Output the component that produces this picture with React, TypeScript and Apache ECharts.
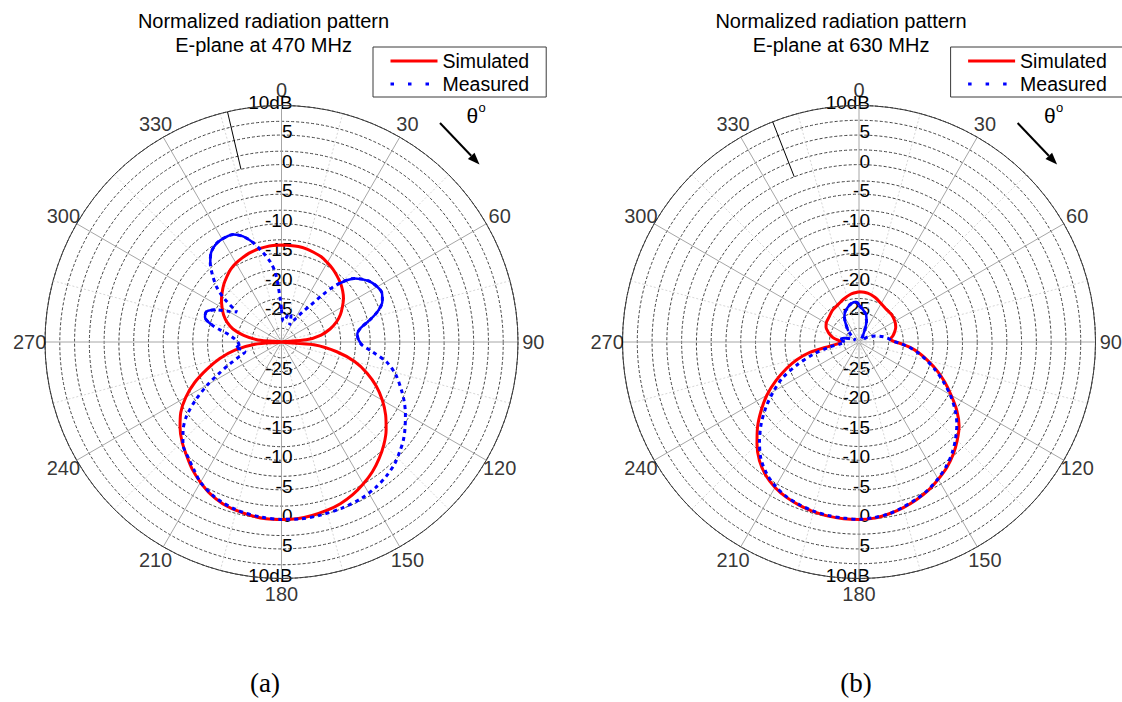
import React, { useEffect, useRef } from "react";
import * as echarts from "echarts";

const FONT = "'Liberation Sans', Arial, Helvetica, sans-serif";
const SERIF = "'Liberation Serif', 'Times New Roman', serif";

// ---------- data ----------
const radiusMin = -30;
const radiusMax = 10;
const radiusStep = 2.5;
const angleStep = 30;
const angleTickLabels = [0, 30, 60, 90, 120, 150, 180, 210, 240, 270, 300, 330];

const seriesNames = ["Simulated", "Measured"];
const titles = [
  "Normalized radiation pattern\nE-plane at 470 MHz",
  "Normalized radiation pattern\nE-plane at 630 MHz",
];
const captions = ["(a)", "(b)"];

// (a) 470 MHz, simulated
const sim470Angles = [
  0, 5, 10, 15, 20, 25, 30, 35, 40, 45, 50, 55, 60, 65, 70, 75, 80, 85, 90,
  95, 100, 105, 110, 115, 120, 125, 130, 135, 140, 145, 150, 155, 160, 165, 170, 175, 180,
  185, 190, 195, 200, 205, 210, 215, 220, 225, 230, 235, 240, 245, 250, 255, 260, 265, 270,
  275, 280, 285, 290, 295, 300, 305, 310, 315, 320, 325, 330, 335, 340, 345, 350, 355, 360,
];
const sim470Db = [
  -13.6, -13.6, -13.6, -13.7, -13.9, -14.1, -14.5, -14.9, -15.4, -15.9, -16.5, -17.2, -18.1, -19.0, -20.1, -21.5, -23.2, -25.8, -30,
  -24.5, -20.5, -17.2, -14.6, -12.3, -10.3, -8.5, -6.9, -5.5, -4.3, -3.2, -2.3, -1.5, -0.9, -0.5, -0.2, 0, 0,
  0, -0.2, -0.5, -0.9, -1.6, -2.6, -3.7, -5.0, -6.2, -7.6, -9.2, -11.3, -13.8, -16.6, -19.2, -22.0, -25.5, -30,
  -26.0, -23.5, -21.5, -20.2, -19.2, -18.4, -17.6, -16.9, -16.2, -15.6, -15.0, -14.6, -14.3, -14.0, -13.8, -13.7, -13.6, -13.6,
];

// (a) 470 MHz, measured
const meas470Angles = [
  0, 5, 10, 15, 20, 25, 30, 35, 38, 41, 44, 49, 55, 60, 64, 68, 72, 76, 80, 84, 88,
  92, 96, 101, 106, 112, 116, 120, 125, 129, 133, 137, 142, 147, 153, 160, 167, 174, 180,
  187, 195, 203, 210, 214, 219, 224, 228, 232, 236, 240, 243, 247, 251, 255, 259, 263, 266,
  270, 274, 278, 281, 284, 288, 292, 296, 300, 304, 307, 310, 314, 318, 322, 327, 332, 336,
  340, 344, 348, 352, 355, 358, 360,
];
const meas470Db = [
  -24.5, -26.5, -26.0, -25.0, -25.3, -26.8, -25.7, -23.8, -22.3, -19.5, -16.5, -13.6, -12.0, -11.3, -11.1, -11.6, -12.8, -14.6, -16.4, -17.1, -17.0,
  -16.4, -14.6, -11.8, -9.9, -8.1, -6.9, -5.8, -4.5, -3.5, -2.7, -1.9, -1.2, -0.7, -0.3, -0.1, 0, 0.1, 0,
  -0.2, -0.6, -1.4, -2.6, -3.7, -4.9, -6.0, -7.6, -9.6, -12.5, -15.6, -18.0, -20.5, -22.5, -23.6, -23.2, -22.3, -22.8,
  -22.6, -22.0, -21.0, -19.5, -17.8, -16.4, -16.3, -17.6, -19.6, -20.9, -18.0, -15.8, -13.8, -12.0, -10.7, -10.0, -9.9, -10.1,
  -11.0, -12.5, -14.4, -16.3, -18.3, -22.3, -24.5,
];
const meas470Solid = [[44, 92], [262, 268], [284, 296], [316, 346]];

// (b) 630 MHz, simulated
const sim630Angles = [
  0, 10, 20, 30, 40, 50, 60, 68, 75, 80, 84, 87, 90, 93, 96, 100, 105, 110, 115, 120,
  125, 130, 135, 140, 145, 150, 155, 160, 165, 170, 175, 180, 185, 190, 195, 200, 205,
  210, 215, 220, 225, 230, 235, 240, 245, 250, 254, 258, 262, 266, 270, 274, 278, 283,
  288, 294, 300, 310, 320, 332, 340, 350, 360,
];
const sim630Db = [
  -21.5, -21.6, -22.0, -22.5, -22.8, -22.8, -23.0, -23.3, -23.8, -24.2, -24.6, -24.5, -23.8, -22.6, -21.3, -19.8, -18.0, -16.0, -14.0, -12.0,
  -9.8, -7.9, -6.5, -5.2, -4.1, -3.2, -2.3, -1.6, -1.0, -0.5, -0.1, 0, 0, -0.1, -0.3, -0.6, -1.0,
  -1.6, -2.5, -3.8, -5.6, -7.6, -9.8, -12.0, -14.5, -17.0, -19.0, -21.5, -25.0, -26.6, -26.9, -26.6, -25.8, -25.1,
  -24.5, -23.9, -23.6, -23.4, -23.0, -22.7, -22.3, -21.8, -21.5,
];

// (b) 630 MHz, measured
const meas630Angles = [
  0, 5, 10, 15, 20, 25, 30, 40, 50, 60, 70, 78, 84, 88, 92, 96, 100, 105, 110, 115, 120,
  125, 130, 135, 140, 145, 150, 155, 160, 165, 170, 175, 180, 185, 190, 195, 200, 205,
  210, 215, 220, 225, 230, 235, 240, 245, 250, 255, 260, 265, 270, 275, 280, 285, 290,
  300, 310, 316, 321, 326, 330, 335, 340, 345, 350, 354, 358, 360,
];
const meas630Db = [
  -23.8, -24.3, -24.8, -25.3, -26.3, -27.6, -28.6, -29.4, -29.3, -28.3, -27.0, -25.8, -24.9, -24.4, -23.0, -21.4, -20.0, -18.2, -16.3, -14.3, -12.2,
  -10.2, -8.4, -6.9, -5.5, -4.3, -3.3, -2.4, -1.7, -1.1, -0.5, -0.2, 0, -0.1, -0.2, -0.4, -0.7, -1.1,
  -1.8, -2.8, -4.2, -6.2, -8.4, -10.8, -13.3, -15.8, -19.0, -22.0, -24.8, -27.0, -27.6, -27.2, -27.0, -27.4, -28.4,
  -29.3, -28.3, -27.4, -26.7, -25.8, -25.1, -24.4, -24.0, -23.6, -23.3, -23.2, -23.4, -23.8,
];
const meas630Solid = [[0, 32], [268, 292], [314, 360]];

// angle of the thin black reference stroke drawn in each plot (0 dB to 10 dB)
const refStrokeAngles = [346.8, 338.6];

// ---------- layout (not data) ----------
const CENTERS = [281.5, 859];
const CY = 342;
const R = 236.5;
const SHIFT = 577.6;
const ANGLE_LABEL_RADIUS_DB = 12.6; // angle labels sit just outside the outer ring

const pairs = (angles: number[], db: number[]) => angles.map((a, i) => [db[i], a]);
const segment = (angles: number[], db: number[], lo: number, hi: number) => {
  const out: number[][] = [];
  angles.forEach((a, i) => {
    if (a >= lo && a <= hi) out.push([db[i], a]);
  });
  return out;
};

const radiusFormatter = (v: number) => {
  if (Math.abs(v - radiusMax) < 1e-6) return "10dB";
  if (v <= radiusMin + 1e-6) return "";
  return Math.abs(v % 5) < 1e-6 ? String(v) : "";
};

function buildOption() {
  const polar: any[] = [];
  const angleAxis: any[] = [];
  const radiusAxis: any[] = [];
  const series: any[] = [];
  const graphic: any[] = [];
  const legend: any[] = [];

  const datasets = [
    { sim: pairs(sim470Angles, sim470Db), meas: pairs(meas470Angles, meas470Db), ma: meas470Angles, md: meas470Db, solid: meas470Solid },
    { sim: pairs(sim630Angles, sim630Db), meas: pairs(meas630Angles, meas630Db), ma: meas630Angles, md: meas630Db, solid: meas630Solid },
  ];

  [0, 1].forEach((k) => {
    const cx = CENTERS[k];
    const main = k * 2;
    const aux = k * 2 + 1;
    polar.push({ center: [cx, CY], radius: R });
    polar.push({ center: [cx, CY], radius: R });

    angleAxis.push({
      polarIndex: main,
      type: "value",
      min: 0,
      max: 360,
      interval: angleStep,
      startAngle: 90,
      clockwise: true,
      z: 1,
      axisLine: { show: true, lineStyle: { color: "#3a3a3a", width: 1 } },
      axisTick: { show: false },
      axisLabel: { show: false },
      splitLine: { show: true, lineStyle: { color: "#a6a6a6", width: 1 } },
      minorTick: { show: false, splitNumber: 2 },
      minorSplitLine: { show: true, lineStyle: { color: "#d6d6d6", width: 1, type: [2, 2] } },
    });
    angleAxis.push({
      polarIndex: aux,
      type: "value",
      min: 0,
      max: 360,
      startAngle: 270,
      clockwise: true,
      show: false,
    });

    const radiusLabel = (margin: number) => ({
      show: true,
      margin,
      align: "right",
      verticalAlign: "bottom",
      lineHeight: 7,
      fontSize: 19,
      color: "#000",
      fontFamily: FONT,
      formatter: radiusFormatter,
    });

    radiusAxis.push({
      polarIndex: main,
      type: "value",
      min: radiusMin,
      max: radiusMax,
      interval: radiusStep,
      axisLine: { show: false },
      axisTick: { show: false },
      axisLabel: radiusLabel(-11),
      splitLine: { show: true, lineStyle: { color: "#444444", width: 1, type: [3, 2] } },
      splitArea: { show: false },
    });
    radiusAxis.push({
      polarIndex: aux,
      type: "value",
      min: radiusMin,
      max: radiusMax,
      interval: radiusStep,
      axisLine: { show: false },
      axisTick: { show: false },
      axisLabel: radiusLabel(11),
      splitLine: { show: false },
      splitArea: { show: false },
    });

    // angle tick labels, placed through the polar scales just outside the rim
    series.push({
      type: "scatter",
      name: `angle-labels-${k}`,
      coordinateSystem: "polar",
      polarIndex: main,
      clip: false,
      silent: true,
      symbol: "circle",
      symbolSize: 1,
      itemStyle: { color: "rgba(0,0,0,0)" },
      data: angleTickLabels.map((a) => [ANGLE_LABEL_RADIUS_DB, a]),
      label: {
        show: true,
        position: "inside",
        align: "center",
        verticalAlign: "middle",
        fontSize: 20,
        color: "#000",
        fontFamily: FONT,
        formatter: (p: any) => String(p.value[1]),
      },
      z: 5,
    });

    const d = datasets[k];
    series.push({
      type: "line",
      name: seriesNames[0],
      coordinateSystem: "polar",
      polarIndex: main,
      data: d.sim,
      symbol: "none",
      smooth: 0.3,
      silent: true,
      z: 3,
      lineStyle: { color: "#ff0000", width: 3 },
      itemStyle: { color: "#ff0000" },
    });
    series.push({
      type: "line",
      name: seriesNames[1],
      coordinateSystem: "polar",
      polarIndex: main,
      data: d.meas,
      symbol: "none",
      smooth: 0.3,
      silent: true,
      z: 4,
      lineStyle: { color: "#0000ff", width: 3, type: [4, 4] },
      itemStyle: { color: "#0000ff" },
    });
    d.solid.forEach(([lo, hi], j) => {
      series.push({
        type: "line",
        name: `measured-dense-${k}-${j}`,
        coordinateSystem: "polar",
        polarIndex: main,
        data: segment(d.ma, d.md, lo, hi),
        symbol: "none",
        smooth: 0.3,
        silent: true,
        z: 4,
        lineStyle: { color: "#0000ff", width: 2.5 },
        itemStyle: { color: "#0000ff" },
      });
    });
    series.push({
      type: "line",
      name: `ref-stroke-${k}`,
      coordinateSystem: "polar",
      polarIndex: main,
      data: [
        [0, refStrokeAngles[k]],
        [radiusMax, refStrokeAngles[k]],
      ],
      symbol: "none",
      silent: true,
      z: 2,
      lineStyle: { color: "#000", width: 1 },
    });

    legend.push({
      orient: "vertical",
      left: 373 + k * SHIFT,
      top: 47,
      padding: [4, 17, 3, 16],
      itemGap: 3,
      itemWidth: 47,
      itemHeight: 14,
      borderColor: "#3a3a3a",
      borderWidth: 1,
      backgroundColor: "#fff",
      selectedMode: false,
      itemStyle: { opacity: 0, color: "rgba(0,0,0,0)", borderWidth: 0 },
      textStyle: { fontSize: 19.5, fontFamily: FONT, color: "#000", lineHeight: 20 },
      data: [
        { name: seriesNames[0], lineStyle: { width: 3, color: "#ff0000", type: "solid" } },
        { name: seriesNames[1], lineStyle: { type: [3.5, 14], width: 3, color: "#0000ff" } },
      ],
    });

    const dx = k * SHIFT;
    graphic.push({
      type: "text",
      x: cx - 18,
      y: 9,
      style: {
        text: titles[k],
        fill: "#000",
        font: `20px ${FONT}`,
        lineHeight: 24,
        align: "center",
        verticalAlign: "top",
      },
    });
    graphic.push({
      type: "text",
      x: 466.5 + dx,
      y: 115.5,
      style: { text: "θ", fill: "#000", font: `21px ${FONT}`, align: "left", verticalAlign: "middle" },
    });
    graphic.push({
      type: "text",
      x: 478.5 + dx,
      y: 107,
      style: { text: "o", fill: "#000", font: `13px ${FONT}`, align: "left", verticalAlign: "middle" },
    });
    graphic.push({
      type: "line",
      shape: { x1: 440 + dx, y1: 123, x2: 471.2 + dx, y2: 155.8 },
      style: { stroke: "#000", lineWidth: 2 },
    });
    graphic.push({
      type: "polygon",
      shape: {
        points: [
          [479.5 + dx, 164.5],
          [467.9 + dx, 158.9],
          [474.5 + dx, 152.7],
        ],
      },
      style: { fill: "#000" },
    });
    graphic.push({
      type: "text",
      x: k === 0 ? 265 : 856,
      y: 683,
      style: { text: captions[k], fill: "#000", font: `27px ${SERIF}`, align: "center", verticalAlign: "middle" },
    });
  });

  return {
    animation: false,
    backgroundColor: "#ffffff",
    polar,
    angleAxis,
    radiusAxis,
    legend,
    graphic,
    series,
  };
}

export default function App() {
  const ref = useRef<HTMLDivElement>(null);
  useEffect(() => {
    if (!ref.current) return;
    const chart = echarts.init(ref.current, undefined, { renderer: "svg" });
    chart.setOption(buildOption() as any);
    return () => chart.dispose();
  }, []);
  return (
    <div
      ref={ref}
      style={{ position: "fixed", left: 0, top: 0, width: 1122, height: 702, background: "#fff" }}
    />
  );
}
